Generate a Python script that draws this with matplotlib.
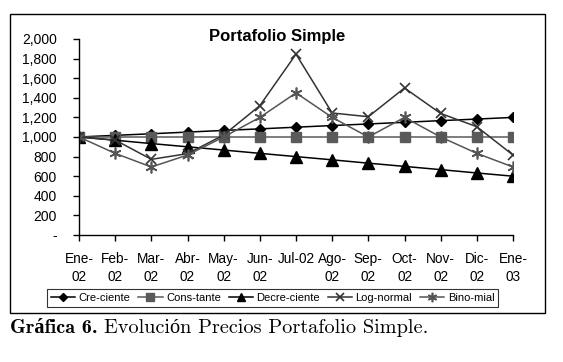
import matplotlib
matplotlib.use("Agg")
import matplotlib.pyplot as plt
from matplotlib.patches import Rectangle

months = ["Ene-\n02", "Feb-\n02", "Mar-\n02", "Abr-\n02", "May-\n02", "Jun-\n02", "Jul-02",
          "Ago-\n02", "Sep-\n02", "Oct-\n02", "Nov-\n02", "Dic-\n02", "Ene-\n03"]
creciente = [1000, 1017, 1033, 1050, 1067, 1083, 1100, 1117, 1133, 1150, 1167, 1183, 1200]
constante = [1000, 1000, 1000, 1000, 1000, 1000, 1000, 1000, 1000, 1000, 1000, 1000, 1000]
decreciente = [1000, 967, 933, 900, 867, 833, 800, 767, 733, 700, 667, 633, 600]
lognormal = [1000, 969, 772, 830, 1020, 1320, 1845, 1245, 1207, 1500, 1240, 1105, 816]
binomial = [1000, 833, 694, 816, 1000, 1200, 1450, 1200, 1000, 1200, 1000, 833, 694]
yticks = [0, 200, 400, 600, 800, 1000, 1200, 1400, 1600, 1800, 2000]
yticklabels = ["-", "200", "400", "600", "800", "1,000", "1,200", "1,400", "1,600", "1,800", "2,000"]
series_names = ["Cre-ciente", "Cons-tante", "Decre-ciente", "Log-normal", "Bino-mial"]

plt.rcParams['font.family'] = ['Liberation Sans', 'DejaVu Sans']

W, H = 563, 362
fig = plt.figure(figsize=(W / 100, H / 100), dpi=100)
fig.patch.set_facecolor("white")

# outer chart frame
fig.patches.append(Rectangle((10 / W, 1 - 313 / H), 535 / W, 299 / H,
                             transform=fig.transFigure, fill=False,
                             edgecolor="black", linewidth=1.0))

ax = fig.add_axes([79 / W, 1 - 235 / H, 434 / W, 196 / H])
x = list(range(len(months)))

h1, = ax.plot(x, creciente, color="black", lw=1.1, marker="D", ms=5.5, mfc="black", mec="black")
h2, = ax.plot(x, constante, color="#5a5a5a", lw=1.1, marker="s", ms=7.5, mfc="#5a5a5a", mec="#5a5a5a")
h3, = ax.plot(x, decreciente, color="black", lw=1.1, marker="^", ms=8, mfc="black", mec="black")
h4, = ax.plot(x, lognormal, color="#333333", lw=1.1, marker="x", ms=7.5, mew=1.2, mec="#333333")
h5, = ax.plot(x, binomial, color="#555555", lw=1.1, marker=(6, 2, 0), ms=8.5, mew=1.2, mec="#555555")

ax.set_xlim(0, len(months) - 1)
ax.set_ylim(0, 2000)
ax.set_yticks(yticks)
ax.set_yticklabels(yticklabels)
ax.set_xticks(x)
ax.set_xticklabels(months, linespacing=1.35)
for s in ["top", "right"]:
    ax.spines[s].set_visible(False)
for s in ["left", "bottom"]:
    ax.spines[s].set_linewidth(1.0)
ax.tick_params(axis="y", direction="out", length=4, width=1.0, pad=12, labelsize=10)
ax.tick_params(axis="x", direction="out", length=4, width=1.0, pad=8, labelsize=9.8)
for lab in ax.get_xticklabels():
    lab.set_verticalalignment("top")
ax.patch.set_alpha(0)

fig.text(277.5 / W, 1 - 37 / H, "Portafolio Simple", ha="center", va="center",
         fontsize=12, fontweight="bold")

leg = fig.legend([h1, h2, h3, h4, h5], series_names, loc="center",
                 bbox_to_anchor=(272.5 / W, 1 - 298 / H), ncol=5, fontsize=8,
                 frameon=True, fancybox=False, edgecolor="black", handlelength=2.2,
                 handletextpad=0.3, columnspacing=0.7, borderpad=0.35, markerscale=0.8)
leg.get_frame().set_linewidth(0.8)

# caption
fig.canvas.draw()
t1 = fig.text(10 / W, 1 - 333 / H, "Gráfica 6.", ha="left", va="baseline",
              fontsize=14.6, fontweight="bold", family=["cmb10", "Liberation Serif"])
r = fig.canvas.get_renderer()
bb = t1.get_window_extent(renderer=r)
fig.text(bb.x1 / W + 6 / W, 1 - 333 / H, "Evolución Precios Portafolio Simple.", ha="left",
         va="baseline", fontsize=14.6, family=["cmr10", "Liberation Serif"])

fig.savefig("out.png", dpi=100, facecolor="white")
